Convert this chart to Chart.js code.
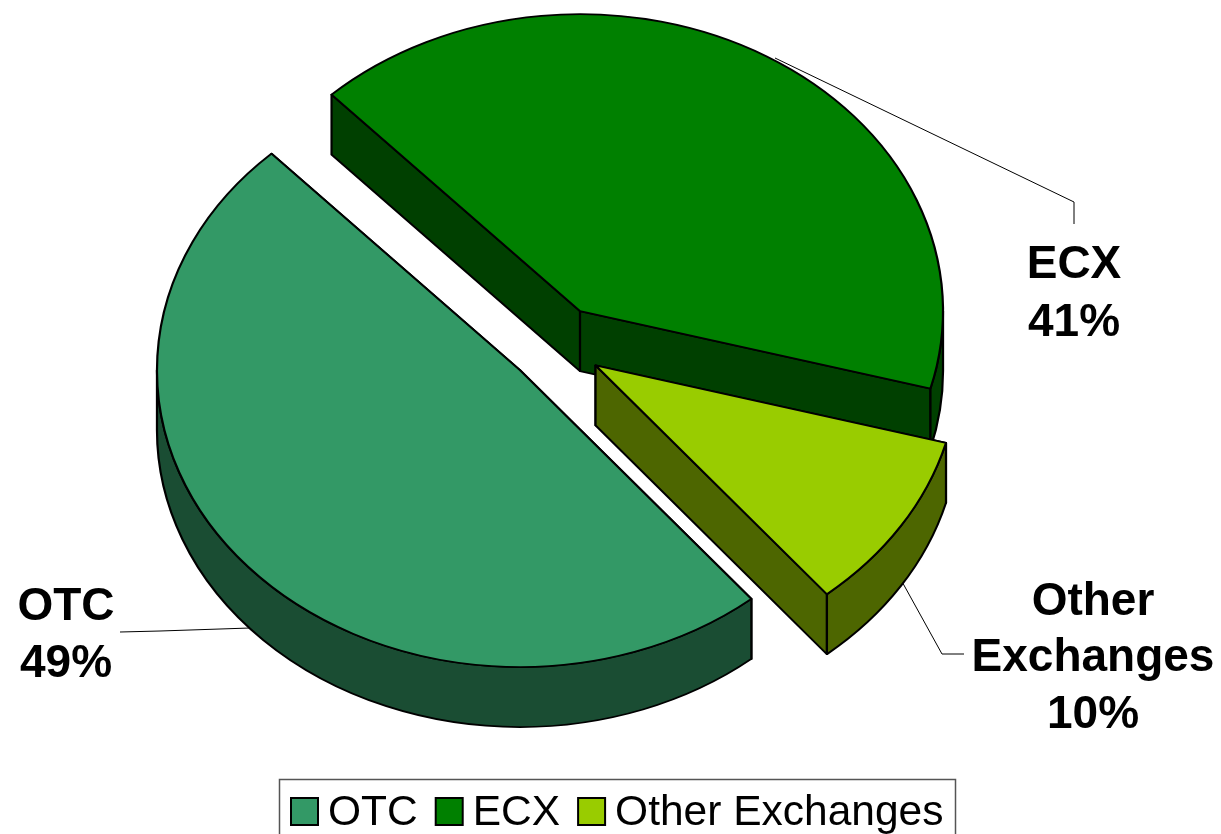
<!DOCTYPE html>
<html>
<head>
<meta charset="utf-8">
<title>Market share</title>
<style>
    html, body { margin: 0; padding: 0; background: #fff; overflow: hidden; }
    canvas { display: block; }
</style>
<script src="https://cdn.jsdelivr.net/npm/chart.js@4/dist/chart.umd.min.js"></script>
</head>
<body>
<canvas id="myChart" width="1221" height="834"></canvas>
<script>
const categories = ['OTC', 'ECX', 'Other Exchanges'];
const shares = [49, 41.2, 9.8];

const topColors = ['#339966', '#008000', '#99CC00'];
const sideColors = ['#1A4D33', '#004000', '#4D6600'];

// back slice first, so the nearer ones paint over it
const paintOrder = [1, 0, 2];

// fake 3D look: squash the circle, push slices out, add walls below each one
const pie = { cx: 555.6, cy: 344.4, radius: 363, squash: 0.818, explode: 47.5, depth: 60, rotation: 140.4 };

const calloutFont = 'bold 46px "Liberation Sans"';
const callouts = [
    { x: 66, lines: [['OTC', 620], ['49%', 677]], leader: [[120, 632], [160, 631], [250, 628]] },
    { x: 1074, lines: [['ECX', 278], ['41%', 336]], leader: [[775, 58], [1074, 202], [1074, 224]] },
    { x: 1093, lines: [['Other', 615], ['Exchanges', 671], ['10%', 728]], leader: [[900, 578], [942, 654], [964, 654]] }
];

const legendBox = { left: 279.5, top: 779.5, right: 955.5, bottom: 840 };
const legendFont = '42.5px "Liberation Sans"';

function sliceTransform(ctx, arc) {
    const mid = (arc.startAngle + arc.endAngle) / 2;
    ctx.setTransform(1, 0, 0, pie.squash, pie.cx - arc.x, pie.cy - arc.y * pie.squash);
    ctx.translate(Math.cos(mid) * pie.explode, Math.sin(mid) * pie.explode);
}

function drawSlice(ctx, arc, index) {
    const x = arc.x, y = arc.y, r = arc.outerRadius;
    const drop = pie.depth / pie.squash;

    ctx.save();
    sliceTransform(ctx, arc);
    ctx.fillStyle = sideColors[index];
    ctx.strokeStyle = arc.options.borderColor;
    ctx.lineWidth = arc.options.borderWidth;
    ctx.lineJoin = 'round';

    // the two cut faces
    [arc.startAngle, arc.endAngle].forEach(function (a) {
        const ex = x + Math.cos(a) * r;
        const ey = y + Math.sin(a) * r;
        ctx.beginPath();
        ctx.moveTo(x, y);
        ctx.lineTo(ex, ey);
        ctx.lineTo(ex, ey + drop);
        ctx.lineTo(x, y + drop);
        ctx.closePath();
        ctx.fill();
        ctx.stroke();
    });

    // the curved outer wall, only the part that faces the viewer (lower half of the ellipse)
    for (let k = 0; k < 2; k++) {
        const from = Math.max(arc.startAngle, k * 2 * Math.PI);
        const to = Math.min(arc.endAngle, k * 2 * Math.PI + Math.PI);
        if (to <= from) continue;
        ctx.beginPath();
        ctx.arc(x, y, r, from, to);
        ctx.arc(x, y + drop, r, to, from, true);
        ctx.closePath();
        ctx.fill();
        ctx.stroke();
    }

    arc.draw(ctx);
    ctx.restore();
}

function drawLeaders(ctx) {
    ctx.save();
    ctx.strokeStyle = '#000';
    ctx.lineWidth = 1;
    callouts.forEach(function (c) {
        ctx.beginPath();
        c.leader.forEach(function (p, i) {
            if (i === 0) ctx.moveTo(p[0], p[1]); else ctx.lineTo(p[0], p[1]);
        });
        ctx.stroke();
    });
    ctx.restore();
}

function drawCallouts(ctx) {
    ctx.save();
    ctx.font = calloutFont;
    ctx.fillStyle = '#000';
    ctx.textAlign = 'center';
    ctx.textBaseline = 'alphabetic';
    callouts.forEach(function (c) {
        c.lines.forEach(function (l) {
            ctx.fillText(l[0], c.x, l[1]);
        });
    });
    ctx.restore();
}

function drawLegend(ctx) {
    ctx.save();
    ctx.strokeStyle = '#555';
    ctx.lineWidth = 1.5;
    ctx.strokeRect(legendBox.left, legendBox.top, legendBox.right - legendBox.left, legendBox.bottom - legendBox.top);
    ctx.font = legendFont;
    ctx.textBaseline = 'alphabetic';
    let x = 291;
    categories.forEach(function (name, i) {
        ctx.fillStyle = topColors[i];
        ctx.fillRect(x, 798, 27, 27);
        ctx.strokeStyle = '#000';
        ctx.lineWidth = 2;
        ctx.strokeRect(x, 798, 27, 27);
        ctx.fillStyle = '#000';
        ctx.fillText(name, x + 37, 825);
        x += 37 + ctx.measureText(name).width + 18;
    });
    ctx.restore();
}

const pie3d = {
    id: 'pie3d',
    beforeDatasetsDraw(chart) {
        const ctx = chart.ctx;
        const arcs = chart.getDatasetMeta(0).data;
        drawLeaders(ctx);
        paintOrder.forEach(function (i) {
            drawSlice(ctx, arcs[i], i);
        });
        return false;
    },
    afterDraw(chart) {
        drawCallouts(chart.ctx);
        drawLegend(chart.ctx);
    }
};

new Chart(document.getElementById('myChart').getContext('2d'), {
    type: 'pie',
    data: {
        labels: categories,
        datasets: [{
            data: shares,
            backgroundColor: topColors,
            borderColor: '#000',
            borderWidth: 2.2,
            borderJoinStyle: 'round'
        }]
    },
    options: {
        responsive: false,
        animation: false,
        radius: pie.radius,
        rotation: pie.rotation,
        plugins: {
            legend: { display: false },
            tooltip: { enabled: false }
        }
    },
    plugins: [pie3d]
});
</script>
</body>
</html>
